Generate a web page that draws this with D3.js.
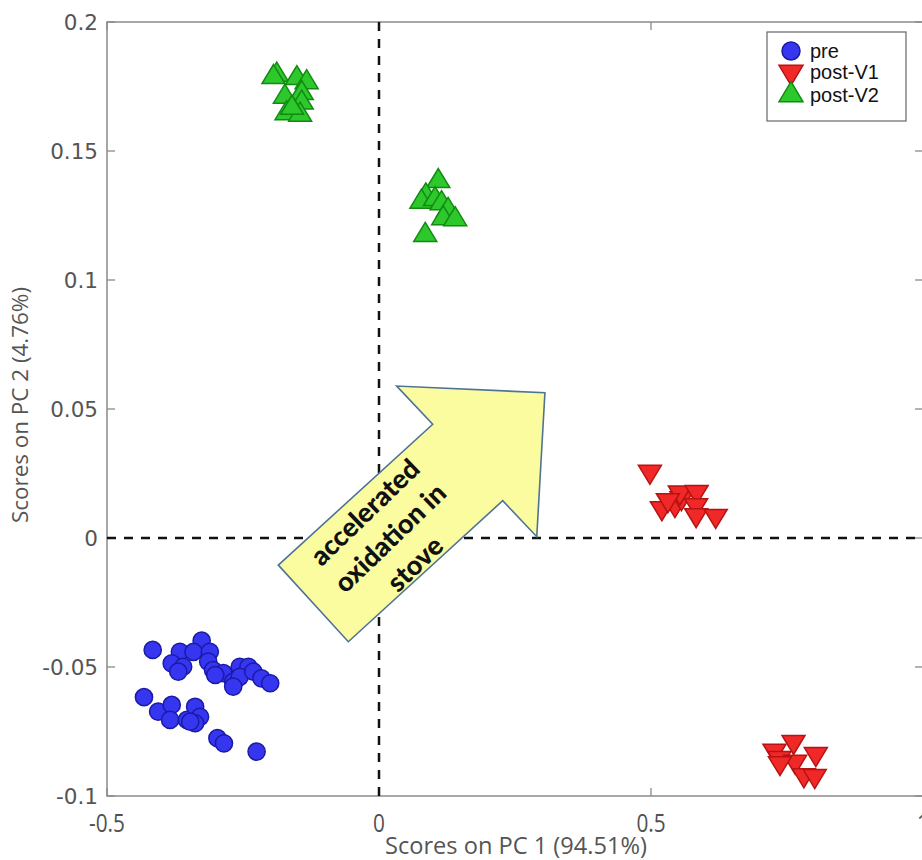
<!DOCTYPE html>
<html>
<head>
<meta charset="utf-8">
<script src="https://cdn.jsdelivr.net/npm/d3@7"></script>
<style>
  html, body { margin: 0; padding: 0; background: #fff; overflow: hidden; }
  svg { display: block; }
</style>
</head>
<body>
<svg id="chart" width="922" height="860"></svg>
<script>
// PCA score data (PC1, PC2)
const preX = [-0.416,-0.366,-0.326,-0.381,-0.360,-0.369,-0.341,-0.311,-0.314,-0.305,-0.286,-0.301,-0.268,-0.256,-0.240,-0.256,-0.231,-0.216,-0.200,-0.268,
              -0.432,-0.406,-0.381,-0.384,-0.353,-0.338,-0.329,-0.338,-0.347,-0.297,-0.285,-0.225];
const preY = [-0.0434,-0.0441,-0.0398,-0.0486,-0.0499,-0.0518,-0.0441,-0.0441,-0.0479,-0.0512,-0.0524,-0.0531,-0.0557,-0.0499,-0.0499,-0.0538,-0.0518,-0.0544,-0.0563,-0.0576,
              -0.0617,-0.0673,-0.0647,-0.0705,-0.0705,-0.0654,-0.0693,-0.0718,-0.0712,-0.0776,-0.0796,-0.0828];

const postV1X = [0.498,0.520,0.544,0.556,0.553,0.584,0.583,0.583,0.619,0.531,
                 0.762,0.727,0.803,0.736,0.765,0.781,0.801,0.737];
const postV1Y = [0.0257,0.0116,0.0128,0.0155,0.0177,0.0179,0.0128,0.0089,0.0086,0.0147,
                 -0.0790,-0.0824,-0.0837,-0.0852,-0.0867,-0.0919,-0.0922,-0.0872];

const postV2X = [-0.188,-0.194,-0.151,-0.133,-0.173,-0.142,-0.142,-0.170,-0.145,-0.160,
                 0.109,0.086,0.078,0.103,0.115,0.127,0.118,0.140,0.085];
const postV2Y = [0.1795,0.1786,0.1782,0.1766,0.1710,0.1724,0.1687,0.1646,0.1640,0.1667,
                 0.1383,0.1327,0.1303,0.1313,0.1297,0.1271,0.1239,0.1235,0.1174];

const xTicks = [-0.5, 0, 0.5, 1];
const xTickLabels = ["-0.5", "0", "0.5", "1"];
const yTicks = [-0.1, -0.05, 0, 0.05, 0.1, 0.15, 0.2];
const yTickLabels = ["-0.1", "-0.05", "0", "0.05", "0.1", "0.15", "0.2"];

const seriesNames = ["pre", "post-V1", "post-V2"];

// annotation arrow outline in score units
const arrowX = [-0.185, -0.0564, 0.2274, 0.290, 0.305, 0.0325, 0.0987];
const arrowY = [-0.0105, -0.0402, 0.01446, 0.0005, 0.0563, 0.0589, 0.0441];
const arrowLines = ["accelerated", "oxidation in", "stove"];

const svg = d3.select("#chart");
const margin = { left: 107, top: 22, right: 923, bottom: 796 };

const x = d3.scaleLinear().domain([-0.5, 1]).range([margin.left, margin.right]);
const y = d3.scaleLinear().domain([-0.1, 0.2]).range([margin.bottom, margin.top]);

const axisColor = "#8a8a8a";
const labelFont = "Open Sans, Lato, sans-serif";

// frame
svg.append("rect")
  .attr("x", margin.left).attr("y", margin.top)
  .attr("width", margin.right - margin.left)
  .attr("height", margin.bottom - margin.top)
  .attr("fill", "none").attr("stroke", axisColor).attr("stroke-width", 1.5);

// inward ticks on all four sides
const tickLen = 8;
const tickG = svg.append("g").attr("stroke", axisColor).attr("stroke-width", 1.3);
yTicks.forEach(v => {
  tickG.append("line").attr("x1", margin.left).attr("x2", margin.left + tickLen)
    .attr("y1", y(v)).attr("y2", y(v));
  tickG.append("line").attr("x1", margin.right).attr("x2", margin.right - tickLen)
    .attr("y1", y(v)).attr("y2", y(v));
});
xTicks.forEach(v => {
  tickG.append("line").attr("x1", x(v)).attr("x2", x(v))
    .attr("y1", margin.bottom).attr("y2", margin.bottom - tickLen);
  tickG.append("line").attr("x1", x(v)).attr("x2", x(v))
    .attr("y1", margin.top).attr("y2", margin.top + tickLen);
});

// tick labels
svg.append("g").selectAll("text").data(yTicks).join("text")
  .attr("x", margin.left - 9)
  .attr("y", d => y(d))
  .attr("dy", "0.36em")
  .attr("text-anchor", "end")
  .attr("font-family", "DejaVu Sans, sans-serif")
  .attr("font-size", 21.5)
  .attr("fill", "#555")
  .text((d, i) => yTickLabels[i]);

// x tick labels in a narrowed face
svg.append("g").selectAll("text").data(xTicks).join("text")
  .attr("transform", d => `translate(${x(d)},832) scale(0.8,1)`)
  .attr("text-anchor", "middle")
  .attr("font-family", labelFont)
  .attr("font-size", 26)
  .attr("fill", "#505050")
  .text((d, i) => xTickLabels[i]);

// axis titles
svg.append("text")
  .attr("x", 385).attr("y", 854)
  .attr("textLength", 262).attr("lengthAdjust", "spacingAndGlyphs")
  .attr("font-family", labelFont)
  .attr("font-size", 23)
  .attr("fill", "#555")
  .text("Scores on PC 1 (94.51%)");

svg.append("text")
  .attr("transform", "translate(28,523) rotate(-90)")
  .attr("textLength", 236).attr("lengthAdjust", "spacingAndGlyphs")
  .attr("font-family", labelFont)
  .attr("font-size", 21)
  .attr("fill", "#555")
  .text("Scores on PC 2 (4.76%)");

// zero reference lines
const dash = "9,8";
svg.append("line")
  .attr("x1", x(0)).attr("x2", x(0)).attr("y1", margin.top).attr("y2", margin.bottom)
  .attr("stroke", "#111").attr("stroke-width", 2.5).attr("stroke-dasharray", dash);
svg.append("line")
  .attr("x1", margin.left).attr("x2", margin.right).attr("y1", y(0)).attr("y2", y(0))
  .attr("stroke", "#111").attr("stroke-width", 2.5).attr("stroke-dasharray", dash);

// arrow annotation
const arrowPts = arrowX.map((v, i) => [x(v), y(arrowY[i])]);
svg.append("path")
  .attr("d", d3.line()(arrowPts) + "Z")
  .attr("fill", "#fbfba0")
  .attr("stroke", "#4f7396")
  .attr("stroke-width", 1.6);

const textG = svg.append("g")
  .attr("transform", "translate(390,538) rotate(-44)");
textG.selectAll("text").data(arrowLines).join("text")
  .attr("x", 0)
  .attr("y", (d, i) => (i - 1) * 36)
  .attr("dy", "0.35em")
  .attr("text-anchor", "middle")
  .attr("font-family", "Lato, sans-serif")
  .attr("font-weight", 900)
  .attr("font-size", 27)
  .attr("fill", "#111")
  .text(d => d);

// marker shapes
function triPath(w, h, down) {
  const s = down ? -1 : 1;
  return `M0,${-s * h * 2 / 3}L${w / 2},${s * h / 3}L${-w / 2},${s * h / 3}Z`;
}
const styles = [
  { fill: "#3636f0", stroke: "#1a1aa6" },
  { fill: "#f02828", stroke: "#b81212" },
  { fill: "#2cc82c", stroke: "#128a12" }
];

const pts = svg.append("g");
pts.selectAll("circle.pre").data(preX).join("circle")
  .attr("class", "pre")
  .attr("cx", d => x(d))
  .attr("cy", (d, i) => y(preY[i]))
  .attr("r", 8.6)
  .attr("fill", styles[0].fill).attr("stroke", styles[0].stroke).attr("stroke-width", 1.5);

pts.selectAll("path.v1").data(postV1X).join("path")
  .attr("class", "v1")
  .attr("d", triPath(23, 19, true))
  .attr("transform", (d, i) => `translate(${x(d)},${y(postV1Y[i])})`)
  .attr("fill", styles[1].fill).attr("stroke", styles[1].stroke).attr("stroke-width", 1.5);

pts.selectAll("path.v2").data(postV2X).join("path")
  .attr("class", "v2")
  .attr("d", triPath(23, 19, false))
  .attr("transform", (d, i) => `translate(${x(d)},${y(postV2Y[i])})`)
  .attr("fill", styles[2].fill).attr("stroke", styles[2].stroke).attr("stroke-width", 1.5);

// legend
const lg = svg.append("g").attr("transform", "translate(767,32)");
lg.append("rect").attr("width", 139).attr("height", 89)
  .attr("fill", "#fff").attr("stroke", "#666").attr("stroke-width", 1.2);
const rowY = [19, 40, 63];
lg.append("circle").attr("cx", 24).attr("cy", rowY[0]).attr("r", 9)
  .attr("fill", styles[0].fill).attr("stroke", styles[0].stroke).attr("stroke-width", 1.5);
lg.append("path").attr("d", triPath(24, 20, true))
  .attr("transform", `translate(24,${rowY[1]})`)
  .attr("fill", styles[1].fill).attr("stroke", styles[1].stroke).attr("stroke-width", 1.5);
lg.append("path").attr("d", triPath(24, 20, false))
  .attr("transform", `translate(24,${rowY[2]})`)
  .attr("fill", styles[2].fill).attr("stroke", styles[2].stroke).attr("stroke-width", 1.5);
lg.selectAll("text").data(seriesNames).join("text")
  .attr("x", 43)
  .attr("y", (d, i) => rowY[i])
  .attr("dy", "0.35em")
  .attr("font-family", "Liberation Sans, Arial, sans-serif")
  .attr("font-size", 20)
  .attr("fill", "#111")
  .text(d => d);
</script>
</body>
</html>
